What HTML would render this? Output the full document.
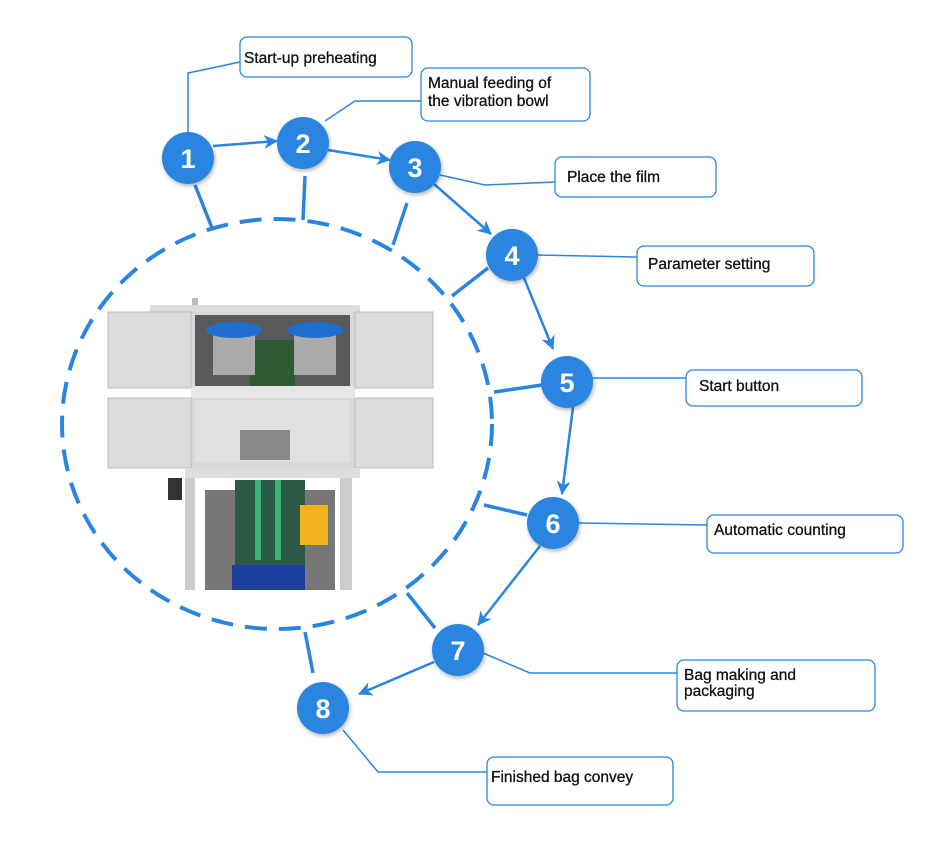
<!DOCTYPE html>
<html><head><meta charset="utf-8"><style>
html,body{margin:0;padding:0;background:#fff;}
svg{display:block;}
text{font-family:"Liberation Sans",sans-serif;}
</style></head><body>
<svg width="940" height="850" viewBox="0 0 940 850" xmlns="http://www.w3.org/2000/svg">
<defs>
<marker id="ar" markerWidth="14" markerHeight="14" refX="13" refY="7" orient="auto" markerUnits="userSpaceOnUse">
<path d="M0,0 L14,7 L0,14 L4,7 Z" fill="#2a85e0"/></marker>
<filter id="sh" x="-30%" y="-30%" width="160%" height="160%"><feDropShadow dx="1" dy="2" stdDeviation="2" flood-color="#000" flood-opacity="0.3"/></filter>
</defs>
<!-- machine -->
<g>
<rect x="192" y="298" width="6" height="16" fill="#bbb"/>
<rect x="150" y="305" width="210" height="8" fill="#ddd"/>
<rect x="191" y="312" width="164" height="160" fill="#d8d8d8"/>
<rect x="195" y="315" width="155" height="72" fill="#5a5a5a"/>
<rect x="195" y="400" width="155" height="62" fill="#e0e0e0"/>
<rect x="250" y="340" width="45" height="48" fill="#2f5a35"/>
<rect x="213" y="330" width="42" height="45" fill="#aaa"/>
<rect x="294" y="330" width="42" height="45" fill="#aaa"/>
<ellipse cx="234" cy="330" rx="28" ry="8" fill="#1f6fd0"/>
<ellipse cx="315" cy="330" rx="28" ry="8" fill="#1f6fd0"/>
<rect x="191" y="386" width="164" height="12" fill="#e6e6e6"/>
<rect x="240" y="430" width="50" height="30" fill="#888"/>
<rect x="108" y="312" width="83" height="76" fill="#dcdcdc" stroke="#bbb"/>
<rect x="108" y="398" width="83" height="70" fill="#dcdcdc" stroke="#bbb"/>
<rect x="355" y="312" width="78" height="76" fill="#dcdcdc" stroke="#bbb"/>
<rect x="355" y="398" width="78" height="70" fill="#dcdcdc" stroke="#bbb"/>
<rect x="185" y="468" width="175" height="10" fill="#ddd"/>
<rect x="185" y="478" width="10" height="112" fill="#ccc"/>
<rect x="340" y="478" width="12" height="112" fill="#ccc"/>
<rect x="205" y="490" width="130" height="100" fill="#777"/>
<rect x="235" y="480" width="70" height="85" fill="#2b5a45"/>
<rect x="255" y="480" width="6" height="80" fill="#39b37a"/>
<rect x="275" y="480" width="6" height="80" fill="#39b37a"/>
<rect x="232" y="565" width="73" height="25" fill="#1d3fa0"/>
<rect x="300" y="505" width="28" height="40" fill="#f2b21b"/>
<rect x="168" y="478" width="14" height="22" fill="#333"/>
</g>
<!-- dashed circle -->
<ellipse cx="277" cy="424" rx="215" ry="205" fill="none" stroke="#2a85e0" stroke-width="4" stroke-dasharray="22 12"/>
<g stroke="#2a85e0" stroke-width="3.5" fill="none">
<line x1="195" y1="185" x2="212" y2="228"/>
<line x1="305" y1="176" x2="303" y2="220"/>
<line x1="407" y1="203" x2="393" y2="245"/>
<line x1="488" y1="268" x2="452" y2="296"/>
<line x1="542" y1="385" x2="494" y2="392"/>
<line x1="527" y1="515" x2="484" y2="505"/>
<line x1="435" y1="628" x2="407" y2="593"/>
<line x1="313" y1="673" x2="305" y2="632"/>
</g>
<!-- connectors -->
<g stroke="#2a85e0" stroke-width="1.5" fill="none">
<polyline points="188,133 188,73 240,62"/>
<polyline points="325,121 355,101 421,101"/>
<polyline points="440,175 485,185 555,182"/>
<polyline points="537,255 637,257"/>
<polyline points="592,378 686,378"/>
<polyline points="578,523 707,525"/>
<polyline points="483,653 530,673 677,673"/>
<polyline points="343,730 378,772 487,772"/>
</g>
<!-- arrows -->
<g stroke="#2a85e0" stroke-width="2.5" fill="none" marker-end="url(#ar)">
<line x1="213" y1="146" x2="277" y2="141"/>
<line x1="328" y1="150" x2="390" y2="160"/>
<line x1="434" y1="184" x2="491" y2="234"/>
<line x1="524" y1="278" x2="553" y2="349"/>
<line x1="573" y1="407" x2="562" y2="494"/>
<line x1="540" y1="546" x2="478" y2="625"/>
<line x1="434" y1="662" x2="359" y2="694"/>
</g>
<!-- nodes -->
<g font-size="27" font-weight="bold" fill="#fff" text-anchor="middle">
<g filter="url(#sh)" fill="#2a85e0">
<circle cx="188" cy="158" r="26"/><circle cx="303" cy="143" r="26"/><circle cx="415" cy="167" r="26"/><circle cx="512" cy="255" r="26"/>
<circle cx="567" cy="382" r="26"/><circle cx="553" cy="523" r="26"/><circle cx="458" cy="650" r="26"/><circle cx="323" cy="708" r="26"/>
</g>
<text x="188" y="168">1</text><text x="303" y="153">2</text><text x="415" y="177">3</text><text x="512" y="265">4</text>
<text x="567" y="392">5</text><text x="553" y="533">6</text><text x="458" y="660">7</text><text x="323" y="718">8</text>
</g>
<!-- boxes -->
<g fill="#fff" stroke="#2a85e0" stroke-width="1.3">
<rect x="240" y="37" width="172" height="40" rx="7"/>
<rect x="421" y="68" width="169" height="53" rx="7"/>
<rect x="555" y="157" width="161" height="40" rx="7"/>
<rect x="637" y="246" width="177" height="40" rx="7"/>
<rect x="686" y="370" width="176" height="36" rx="7"/>
<rect x="707" y="515" width="196" height="38" rx="7"/>
<rect x="677" y="660" width="198" height="51" rx="7"/>
<rect x="487" y="757" width="186" height="48" rx="7"/>
</g>
<g font-size="15.5" fill="#111" stroke="#111" stroke-width="0.3">
<text x="244" y="63">Start-up preheating</text>
<text x="428" y="88">Manual feeding of</text>
<text x="428" y="106">the vibration bowl</text>
<text x="567" y="182">Place the film</text>
<text x="648" y="269">Parameter setting</text>
<text x="699" y="391">Start button</text>
<text x="714" y="535">Automatic counting</text>
<text x="684" y="680">Bag making and</text>
<text x="684" y="696">packaging</text>
<text x="491" y="782">Finished bag convey</text>
</g>
</svg>
</body></html>
